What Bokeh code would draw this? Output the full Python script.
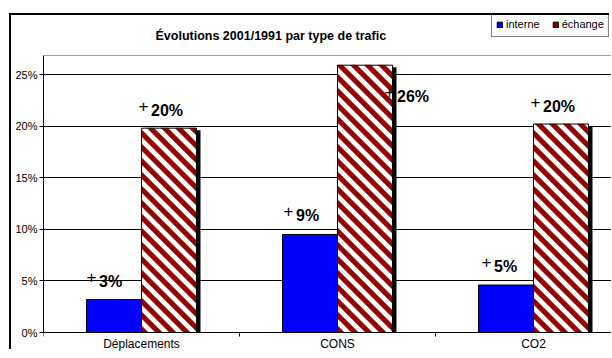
import math
from bokeh.plotting import figure
from bokeh.models import (FixedTicker, NumeralTickFormatter, Span, Legend, LegendItem,
                          Range1d, ColumnDataSource, Label, GlobalInlineStyleSheet)
from bokeh.core.properties import value
from bokeh.embed import file_html
from bokeh.resources import INLINE

# ---------------- data ----------------
categories = ["Déplacements", "CONS", "CO2"]
series_names = ["interne", "échange"]
interne = [0.032, 0.095, 0.046]
echange = [0.198, 0.259, 0.202]
interne_labels = ["3%", "9%", "5%"]
echange_labels = ["20%", "26%", "20%"]
y_ticks = [0.0, 0.05, 0.10, 0.15, 0.20, 0.25]
title_text = "Évolutions 2001/1991 par type de trafic"

# ---------------- geometry / style ----------------
FONT = "Liberation Sans"
W, H = 600, 336
BL = 32                     # left border (px)
PX_PER_CAT = 196.0
PX_PER_UNIT = 1032.0        # px per 1.0 (=100%)
ZERO_FROM_BOTTOM = 19       # px between 0% line and canvas bottom
PLOT_TOP_FROM_TOP = 40      # px between canvas top and top of plot area

x_end = (W - BL) / PX_PER_CAT
y_start = -ZERO_FROM_BOTTOM / PX_PER_UNIT
y_end = y_start + H / PX_PER_UNIT
y_top = y_end - PLOT_TOP_FROM_TOP / PX_PER_UNIT

page_css = ("html, body { overflow: hidden; scrollbar-width: none; } "
            "::-webkit-scrollbar { width: 0; height: 0; display: none; }")

p = figure(width=W, height=H, x_range=Range1d(0, x_end), y_range=Range1d(y_start, y_end),
           output_backend="svg", toolbar_location=None, x_axis_location=None,
           min_border_left=BL, min_border_right=0, min_border_top=0, min_border_bottom=0,
           outline_line_color=None, background_fill_color="white", border_fill_color="white",
           margin=(15, 0, 0, 11),
           styles={"box-shadow": "-2px -2px 0px 0px black"},
           stylesheets=[GlobalInlineStyleSheet(css=page_css)])

# title (drawn inside the canvas, above the plot area)
p.add_layout(Label(x=112, y=H - 20, x_units="screen", y_units="screen", text=title_text,
                   text_font=FONT, text_font_size="12.5px", text_font_style="bold",
                   text_color="black", text_baseline="middle", text_align="left"))

# y axis
ax = p.yaxis[0]
ax.ticker = FixedTicker(ticks=y_ticks)
ax.formatter = NumeralTickFormatter(format="0%")
ax.bounds = (0, y_top)
ax.major_tick_out = 4
ax.major_tick_in = 0
ax.minor_tick_out = 0
ax.minor_tick_in = 0
ax.axis_line_color = "black"
ax.major_tick_line_color = "black"
ax.major_label_text_font = FONT
ax.major_label_text_font_size = "11px"
ax.major_label_text_color = "black"
ax.major_label_standoff = 2

p.ygrid.grid_line_color = "black"
p.ygrid.grid_line_width = 1
p.xgrid.visible = False

# top border of plot area (gray)
p.add_layout(Span(location=y_top, dimension="width", line_color="#a0a0a0", line_width=1))

# ---------------- bars ----------------
w = 55.0 / PX_PER_CAT
xc = [i + 0.5 for i in range(len(categories))]
x_int = [c - w / 2 for c in xc]
x_ech = [c + w / 2 for c in xc]

r_int = p.vbar(x=x_int, top=interne, bottom=0, width=w, fill_color="#0000ff",
               line_color="black", line_width=1)
# shadow of the hatched bars
p.vbar(x=[v + 4.0 / PX_PER_CAT for v in x_ech], top=[v - 2.0 / PX_PER_UNIT for v in echange],
       bottom=0, width=w, fill_color="black", line_color=None)
p.vbar(x=x_ech, top=echange, bottom=0, width=w, fill_color="white", line_color=None)


# 45-degree "\" stripes clipped to each hatched bar (computed in pixel space)
def clip_half(poly, a, keep_ge):
    out = []
    n = len(poly)
    for k in range(n):
        (x1, y1), (x2, y2) = poly[k], poly[(k + 1) % n]
        f1, f2 = x1 + y1 - a, x2 + y2 - a
        in1 = f1 >= 0 if keep_ge else f1 <= 0
        in2 = f2 >= 0 if keep_ge else f2 <= 0
        if in1:
            out.append((x1, y1))
        if in1 != in2:
            t = f1 / (f1 - f2)
            out.append((x1 + t * (x2 - x1), y1 + t * (y2 - y1)))
    return out


PERIOD, BAND = 14.0, 7.0
sx_list, sy_list = [], []
for xe, top in zip(x_ech, echange):
    L, R = (xe - w / 2) * PX_PER_CAT, (xe + w / 2) * PX_PER_CAT
    T = top * PX_PER_UNIT
    rect = [(L, 0.0), (R, 0.0), (R, T), (L, T)]
    c = math.floor((L - BAND) / PERIOD) * PERIOD
    while c < R + T:
        poly = clip_half(rect, c, True)
        if poly:
            poly = clip_half(poly, c + BAND, False)
        if len(poly) >= 3:
            sx_list.append([q[0] / PX_PER_CAT for q in poly])
            sy_list.append([q[1] / PX_PER_UNIT for q in poly])
        c += PERIOD
p.patches(xs=sx_list, ys=sy_list, fill_color="#930000", line_color="#b84848", line_width=0.6)
p.vbar(x=x_ech, top=echange, bottom=0, width=w, fill_color=None,
       line_color="black", line_width=1)

# x axis line, tick marks and category labels
p.add_layout(Span(location=0, dimension="width", line_color="black", line_width=1))
p.ray(x=list(range(len(categories))), y=[0] * len(categories), length=4, length_units="screen",
      angle=-math.pi / 2, line_color="black", line_width=1)
p.text(x=xc, y=[0] * len(categories), text=categories, y_offset=4,
       text_align="center", text_baseline="top", text_font=value(FONT),
       text_font_size="12px", text_color="black")

# ---------------- value labels ----------------
lab_x, lab_y, lab_t = [], [], []
for i in range(len(categories)):
    lab_x += [x_int[i] - w / 2, x_ech[i] - w / 2]
    lab_y += [interne[i], echange[i]]
    lab_t += [interne_labels[i], echange_labels[i]]
nudge_dx = [0, -3, 1, 47, 3, -3]          # px from bar left edge
nudge_dy = [-18, -18, -19, 31, -19, -18]  # px from bar top (down positive)
src = ColumnDataSource(dict(
    x=lab_x, y=lab_y, t=lab_t, plus=["+"] * len(lab_t),
    dxp=nudge_dx, dyp=[d - 4 for d in nudge_dy],
    dxt=[d + 12.5 for d in nudge_dx], dyt=nudge_dy))
p.text(x="x", y="y", text="plus", x_offset="dxp", y_offset="dyp", source=src,
       text_align="left", text_baseline="middle", text_font=value(FONT),
       text_font_size="17px", text_color="black")
p.text(x="x", y="y", text="t", x_offset="dxt", y_offset="dyt", source=src,
       text_align="left", text_baseline="middle", text_font=value(FONT),
       text_font_size="16px", text_font_style="bold", text_color="black")

# ---------------- legend ----------------
nan = float("nan")
leg_int = p.vbar(x=[nan], top=[0], width=w, fill_color="#0000ff", line_color="black")
leg_ech = p.vbar(x=[nan], top=[0], width=w, fill_color="#800000", line_color="black")
legend = Legend(items=[LegendItem(label=series_names[0], renderers=[leg_int]),
                       LegendItem(label=series_names[1], renderers=[leg_ech])],
                location=(448, H - 22), orientation="horizontal",
                glyph_width=7, glyph_height=7, label_height=16, label_standoff=3,
                spacing=12, padding=4, margin=0,
                label_text_font=FONT, label_text_font_size="11px", label_text_color="black",
                border_line_color="black", border_line_width=1, background_fill_color="white",
                background_fill_alpha=1)
p.add_layout(legend)

open("out.html", "w").write(file_html(p, INLINE))
